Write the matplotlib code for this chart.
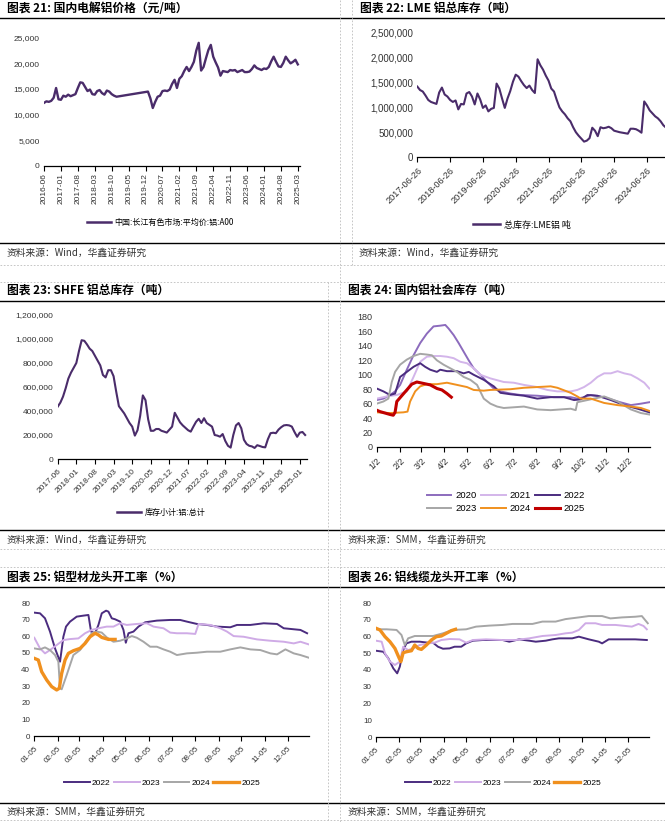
import numpy as np
import matplotlib
matplotlib.use('Agg')
import matplotlib.pyplot as plt
from matplotlib.ticker import FuncFormatter
from matplotlib.lines import Line2D
import pandas as pd

plt.rcParams['font.family'] = ['Liberation Sans', 'Noto Sans CJK SC', 'DejaVu Sans']
plt.rcParams['axes.unicode_minus'] = False

# ---------------- data ----------------
# Panel 21: domestic aluminium price (monthly, from 2016-06), None = no data
p21_start = '2016-06'
p21_price = [12300, 12600, 12500, 12700, 13300, 15200, 13000,
             12900, 13700, 13500, 13900, 13600, 13800, 14000, 15200, 16300, 16200, 15400, 14600,
             14900, 14000, 13900, 14600, 14800, 14200, 13900, 14700, 14500, 14000, 13700, 13500,
             None, None, None, None, None, None, None, None, None, None, None, None,
             14500, 13200, 11300, 12500, 13500, 13700, 14600, 14700, 14600, 14900, 16000, 16800,
             15200, 17000, 17500, 18500, 19300, 18500, 19300, 20300, 22500, 24000, 18600, 19300,
             21000, 22600, 23600, 21300, 20200, 19200, 17600, 18500, 18400, 18300, 18700, 18600,
             18700, 18300, 18500, 18700, 18300, 18300, 18400, 18900, 19600, 19100, 18900, 18700,
             19000, 18900, 19300, 20400, 21300, 20300, 19400, 19300, 20100, 21300, 20600, 20000,
             20300, 20700, 19800]
p21_ticks = ['2016-06', '2017-01', '2017-08', '2018-03', '2018-10', '2019-05', '2019-12',
             '2020-07', '2021-02', '2021-09', '2022-04', '2022-11', '2023-06', '2024-01',
             '2024-08', '2025-03']

# Panel 22: LME total aluminium stocks (monthly from 2017-06-26, thousand t)
p22_start = '2017-06-26'
p22_stock = [1420, 1350, 1320, 1240, 1150, 1110, 1090, 1070, 1300, 1400,
             1260, 1220, 1150, 1110, 1140, 960, 1070, 1060, 1280, 1310,
             1220, 1060, 1280, 1160, 990, 1040, 920, 970, 990, 1480,
             1380, 1180, 990, 1180, 1330, 1520, 1660, 1620, 1530, 1450,
             1390, 1440, 1350, 1290, 1970, 1850, 1760, 1640, 1540, 1380,
             1320, 1150, 1000, 920, 860, 780, 720, 600, 500, 430,
             370, 310, 330, 380, 590, 530, 420, 600, 580, 590,
             610, 580, 530, 515, 500, 490, 480, 470, 570, 570,
             560, 530, 490, 1120, 1040, 940, 880, 820, 780, 720,
             640, 590]
p22_ticks = ['2017-06-26', '2018-06-26', '2019-06-26', '2020-06-26', '2021-06-26',
             '2022-06-26', '2023-06-26', '2024-06-26']

# Panel 23: SHFE aluminium stocks (monthly from 2017-06, thousand t)
p23_start = '2017-06'
p23_stock = [436, 470, 520, 590, 670, 720, 760, 800, 900, 990,
             985, 955, 920, 900, 860, 820, 780, 700, 680, 740,
             740, 690, 560, 440, 410, 380, 340, 300, 270, 195,
             240, 360, 530, 490, 330, 235, 235, 250, 250, 235,
             228, 220, 245, 270, 385, 345, 305, 280, 260, 240,
             228, 270, 310, 335, 300, 340, 300, 285, 270, 200,
             195, 186, 208, 150, 110, 95, 200, 280, 300, 256,
             160, 125, 110, 105, 92, 115, 108, 100, 97, 165,
             215, 219, 215, 245, 265, 280, 283, 280, 270, 225,
             185, 220, 225, 200]
p23_ticks = ['2017-06', '2018-01', '2018-08', '2019-03', '2019-10', '2020-05', '2020-12',
             '2021-07', '2022-02', '2022-09', '2023-04', '2023-11', '2024-06', '2025-01']

# Panel 24: domestic aluminium social inventory (days since 1/2)
p24_years = ['2020', '2021', '2022', '2023', '2024', '2025']
p24_d2020 = [0, 8.9, 17.8, 24.4, 31.1, 40, 48.9, 57.8, 66.6, 75.5, 84.4, 91.1, 95.5, 102.2, 108.8,
             115.5, 122.2, 128.8, 137.7, 146.6, 155.5, 164.4, 177.7, 191, 213.2, 235.5, 257.7,
             266.5, 275.4, 284.3, 302.1, 319.9, 337.6, 351, 362.1]
p24_v2020 = [65, 67, 72, 77, 86, 107, 127, 144, 157, 167, 168, 169, 164, 155, 144,
             132, 120, 109, 100, 90, 81, 77, 74, 72, 71, 69, 69,
             67, 69, 72, 69, 63, 58, 60, 62]
p24_d2021 = [0, 13.3, 26.7, 40, 48.9, 57.8, 66.6, 75.5, 84.4, 93.3, 102.2, 111.1, 119.9, 128.8,
             137.7, 151, 168.8, 182.1, 195.5, 213.2, 226.6, 239.9, 257.7, 266.5, 275.4, 284.3,
             293.2, 302.1, 311, 319.9, 328.7, 337.6, 346.5, 355.4, 362.1]
p24_v2021 = [67, 70, 72, 77, 97, 118, 125, 126, 126, 125, 123, 118, 116, 109,
             100, 95, 90, 89, 86, 83, 79, 77, 77, 79, 83, 89,
             97, 102, 102, 105, 102, 100, 95, 89, 81]
p24_d2022 = [0, 8.9, 17.8, 24.4, 31.1, 40, 48.9, 57.8, 64.4, 71.1, 80, 84.4, 93.3, 106.6, 115.5,
             122.2, 128.8, 142.2, 155.5, 164.4, 177.7, 195.5, 213.2, 231, 248.8, 262.1, 271,
             279.9, 293.2, 311, 328.7, 346.5, 362.1]
p24_v2022 = [81, 77, 72, 74, 97, 104, 111, 116, 111, 107, 104, 107, 105, 105, 102,
             104, 100, 93, 84, 75, 73, 71, 67, 69, 69, 65, 66,
             72, 71, 65, 58, 53, 48]
p24_d2023 = [0, 8.9, 15.5, 20, 24.4, 31.1, 40, 48.9, 57.8, 66.6, 73.3, 80, 88.8, 97.7, 106.6,
             115.5, 124.4, 133.3, 142.2, 151, 159.9, 168.8, 182.1, 195.5, 213.2, 231, 244.3,
             257.7, 264.3, 266.5, 284.3, 302.1, 319.9, 337.6, 351, 362.1]
p24_v2023 = [60, 63, 67, 90, 104, 114, 121, 126, 129, 128, 127, 120, 114, 109, 104,
             97, 93, 86, 67, 60, 56, 54, 55, 56, 52, 51, 52,
             53, 51, 62, 66, 70, 63, 52, 47, 45]
p24_d2024 = [0, 17.8, 35.5, 40.9, 44.4, 51.1, 57.8, 66.6, 80, 93.3, 106.6, 119.9, 128.8, 142.2,
             151, 177.7, 195.5, 213.2, 231, 240, 257.7, 266.5, 271, 284.3, 302.1, 319.9, 337.6,
             351, 362.1]
p24_v2024 = [48, 47, 48, 49, 63, 77, 84, 87, 87, 89, 86, 83, 79, 78,
             79, 80, 82, 83, 84, 82, 75, 70, 67, 67, 61, 58, 56,
             54, 50]
p24_d2025 = [0, 4.4, 11.1, 17.8, 22, 24.4, 26.7, 33.3, 40, 46.6, 53.3, 62.2, 71.1, 80, 86.6,
             93.3, 99.1]
p24_v2025 = [51, 49, 47, 45, 44, 48, 63, 71, 79, 87, 90, 88, 86, 81, 79,
             74, 69]
p24_ticks = ['1/2', '2/2', '3/2', '4/2', '5/2', '6/2', '7/2', '8/2', '9/2', '10/2', '11/2', '12/2']

# Panel 25: aluminium profile leading firms operating rate (days since 01-05)
p25_years = ['2022', '2023', '2024', '2025']
p25_d2022 = [0, 7.5, 14.1, 20.7, 27.3, 33.9, 38.3, 41.8, 47.1, 55.9, 64.7, 71.3, 74.8, 80.1,
             84.5, 88.9, 94.6, 97.7, 102.1, 106.5, 113.1, 117.5, 120.6, 124.1, 130.7, 137.3,
             146.1, 161.5, 179.1, 192.3, 201.1, 214.3, 227.5, 240.7, 258.3, 267.1, 284.7,
             302.3, 319.9, 328.7, 341.9, 350.7, 359.5]
p25_v2022 = [74.2, 73.8, 70.8, 62.8, 52.7, 44.7, 59.7, 65.8, 68.8, 71.8, 72.4, 72.8, 62.8, 61.8,
             66.8, 73.8, 75.4, 74.8, 70.8, 70.2, 68.8, 63.8, 56.1, 61.8, 62.8, 65.8,
             68.4, 69.4, 69.8, 69.8, 68.8, 67.4, 66.8, 65.8, 65.4, 66.8, 66.8,
             67.8, 67.4, 64.8, 64.2, 63.8, 61.8]
p25_d2023 = [0, 7.5, 14.1, 20.7, 29.5, 38.3, 47.1, 58.1, 66.9, 75.7, 84.5, 95.5, 104.3, 113.1,
             121.9, 135.1, 148.3, 157.1, 170.3, 179.1, 187.9, 201.1, 212.1, 216.5, 231.9, 245.1,
             253.9, 262.7, 275.9, 293.5, 311.1, 328.7, 341.9, 350.7, 361.7]
p25_v2023 = [59.1, 52.7, 49.7, 51.7, 54.7, 57.7, 58.3, 58.7, 61.8, 63.8, 64.8, 65.8, 65.8, 67.8,
             66.8, 67.4, 67.8, 65.8, 64.8, 62.2, 61.8, 61.8, 61.4, 67.4, 66.8, 64.8,
             62.8, 60.1, 59.7, 58.1, 57.3, 56.7, 55.7, 56.7, 55.1]
p25_d2024 = [0, 7.5, 14.1, 20.7, 27.3, 31.7, 33.9, 36.1, 42.7, 51.5, 60.3, 69.1, 75.7, 82.3,
             88.9, 95.5, 104.3, 113.1, 121.9, 128.5, 135.1, 143.9, 152.7, 161.5, 170.3, 179.1,
             187.9, 201.1, 214.3, 227.5, 245.1, 258.3, 271.5, 284.7, 297.9, 311.1, 319.9,
             330.9, 341.9, 350.7, 361.7]
p25_v2024 = [52.7, 52.1, 53.3, 51.7, 48.7, 44.7, 28.7, 28.1, 36.7, 48.7, 51.7, 57.7, 61.8, 62.8,
             62.2, 59.3, 56.7, 57.3, 58.7, 60.1, 59.1, 56.7, 53.7, 53.7, 52.1, 50.7,
             48.7, 49.7, 50.1, 50.7, 50.7, 52.1, 53.3, 52.1, 51.7, 49.7, 49.1,
             52.1, 49.7, 48.7, 47.1]
p25_d2025 = [0, 5.3, 9.7, 16.3, 22.9, 29.5, 33, 36.1, 40.5, 44.9, 51.5, 60.3, 66.9, 73.5, 80.1,
             84.5, 88.9, 97.7, 106.5]
p25_v2025 = [46.7, 45.7, 38.7, 33.7, 29.7, 27.7, 28.7, 37.7, 45.7, 49.7, 51.3, 52.7, 55.7, 59.7,
             61.8, 60.8, 59.3, 58.1, 58.1]
p25_ticks = ['01-05', '02-05', '03-05', '04-05', '05-05', '06-05', '07-05', '08-05', '09-05',
             '10-05', '11-05', '12-05']

# Panel 26: aluminium cable leading firms operating rate (days since 01-05)
p26_d2022 = [0, 9.7, 16.3, 22.9, 28.1, 31.6, 36, 40.4, 47, 58, 69, 75.6, 82.2, 88.8, 97.6,
             104.2, 113, 119.6, 128.4, 141.5, 154.7, 167.9, 176.7, 189.9, 203.1, 211.9, 225.1,
             233.8, 242.6, 260.2, 269, 282.2, 295.4, 299.8, 308.6, 326.2, 343.7, 359.1]
p26_v2022 = [51.5, 50.9, 47, 41, 38, 42, 51.9, 55.9, 56.9, 56.9, 56.3, 56.3, 53.9, 52.7, 52.9,
             53.9, 53.9, 55.9, 57.5, 57.9, 57.9, 57.9, 56.9, 58.3, 57.5, 56.9, 57.5,
             58.3, 58.9, 58.9, 59.9, 58.3, 56.9, 55.9, 58.3, 58.3, 58.3, 57.9]
p26_d2023 = [0, 7.5, 11.9, 18.5, 25.1, 31.6, 36, 42.6, 49.2, 58, 69, 77.8, 86.6, 97.6, 110.8,
             119.6, 128.4, 145.9, 167.9, 185.5, 203.1, 220.7, 238.2, 251.4, 260.2, 269, 277.8,
             291, 299.8, 317.4, 330.5, 339.3, 348.1, 354.7, 359.1]
p26_v2023 = [57.5, 56.9, 50, 45, 43, 45, 53.9, 51.9, 52.9, 54.9, 55.9, 56.3, 57.9, 58.5, 58.3,
             56.3, 57.9, 58.3, 57.9, 57.9, 58.9, 60.3, 60.9, 61.9, 62.3, 63.9, 67.9,
             67.9, 66.9, 66.9, 66.3, 65.9, 67.5, 66.3, 64.3]
p26_d2024 = [0, 14.1, 27.3, 33.8, 38.2, 42.6, 51.4, 62.4, 75.6, 88.8, 102, 119.6, 132.7, 150.3,
             167.9, 181.1, 207.5, 220.7, 238.2, 251.4, 269, 282.2, 299.8, 310.8, 326.2, 343.7,
             352.5, 360.4]
p26_v2024 = [64.3, 64.3, 63.9, 60.9, 54.9, 58.9, 60.3, 60.3, 60.3, 61.9, 63.9, 64.3, 65.9, 66.5,
             66.9, 67.5, 67.5, 68.9, 68.9, 70.4, 71.4, 72.2, 72.2, 70.8, 71.4, 71.8,
             72.2, 67.9]
p26_d2025 = [0, 5.3, 11.9, 18.5, 25.1, 30.8, 33, 36, 40.4, 47, 51.4, 55.8, 60.2, 66.8, 73.4, 80,
             86.6, 93.2, 99.8, 105.5]
p26_v2025 = [64.9, 63.9, 59.9, 56.9, 52.9, 47, 45, 50.3, 50.9, 51.5, 54.9, 52.9, 52.3, 54.9,
             57.9, 59.9, 60.3, 61.9, 63.5, 64.3]

# ---------------- styling ----------------
PURPLE_D = '#4a2c6a'
C24 = {'2020': '#8c6bbd', '2021': '#d3b5ea', '2022': '#4b2c7f',
       '2023': '#a6a6a6', '2024': '#f0901e', '2025': '#c00000'}
C25 = {'2022': '#4b2c7f', '2023': '#cfabe6', '2024': '#a6a6a6', '2025': '#f0901e'}
TXT = '#333333'
CJK = ['Noto Sans CJK SC', 'DejaVu Sans']

W, H = 665, 822
fig = plt.figure(figsize=(W / 100, H / 100), dpi=100)


def fx(x):
    return x / W


def fy(y):
    return 1 - y / H


def px_axes(l, t, r, b):
    return fig.add_axes([l / W, 1 - b / H, (r - l) / W, (b - t) / H])


def month_index(s, start):
    y, m = map(int, s.split('-')[:2])
    y0, m0 = map(int, start.split('-')[:2])
    return (y - y0) * 12 + (m - m0)


def day_index(s, base, sep):
    m, d = map(int, s.split(sep))
    if sep == '/':
        m, d = m, d
    return (pd.Timestamp(2023, m, d) - base).days


def style(ax, ysize, xsize):
    for s in ['top', 'right', 'left']:
        ax.spines[s].set_visible(False)
    ax.spines['bottom'].set_color('black')
    ax.spines['bottom'].set_linewidth(0.9)
    ax.tick_params(axis='x', direction='out', length=3.5, width=0.8, colors='black',
                   labelsize=xsize, labelcolor=TXT, pad=1.5)
    ax.tick_params(axis='y', length=0, labelsize=ysize, labelcolor=TXT, pad=3)
    ax.patch.set_alpha(0)


comma = FuncFormatter(lambda v, p: f'{v:,.0f}')

# ---------- frame: titles, rules, sources ----------
for y in [18.3, 243.3, 301, 530, 587, 803]:
    fig.add_artist(Line2D([0, 1], [fy(y), fy(y)], color='black', lw=1.0))
dash = dict(color='#bdbdbd', lw=0.6, ls=(0, (2, 2)))
for y in [265, 282, 549, 567, 820]:
    fig.add_artist(Line2D([0, 1], [fy(y), fy(y)], **dash))
fig.add_artist(Line2D([fx(340), fx(340)], [fy(0), fy(822)], **dash))
fig.add_artist(Line2D([fx(352), fx(352)], [fy(0), fy(265)], **dash))
fig.add_artist(Line2D([fx(328), fx(328)], [fy(282), fy(822)], **dash))

titles = [(7, 8.5, '图表 21: 国内电解铝价格（元/吨）'),
          (360, 8.5, '图表 22: LME 铝总库存（吨）'),
          (7, 290, '图表 23: SHFE 铝总库存（吨）'),
          (348, 290, '图表 24: 国内铝社会库存（吨）'),
          (7, 577, '图表 25: 铝型材龙头开工率（%）'),
          (348, 577, '图表 26: 铝线缆龙头开工率（%）')]
for x, y, t in titles:
    fig.text(fx(x), fy(y), t, fontsize=8.5, fontweight='bold', family=CJK,
             ha='left', va='center', color='black')

sources = [(7, 253, '资料来源：Wind，华鑫证券研究'),
           (359, 253, '资料来源：Wind，华鑫证券研究'),
           (7, 540, '资料来源：Wind，华鑫证券研究'),
           (348, 540, '资料来源：SMM，华鑫证券研究'),
           (7, 812, '资料来源：SMM，华鑫证券研究'),
           (348, 812, '资料来源：SMM，华鑫证券研究')]
for x, y, t in sources:
    fig.text(fx(x), fy(y), t, fontsize=7, family=CJK, ha='left', va='center', color=TXT)

# ---------- Panel 21 ----------
ax = px_axes(44, 37.7, 300, 166)
v = np.array([np.nan if a is None else a for a in p21_price], dtype=float)
x = np.arange(len(v))
ok = ~np.isnan(v)
ax.plot(x[ok], v[ok], color=PURPLE_D, lw=1.7, solid_joinstyle='round')
ax.set_xlim(0, 105.9)
ax.set_ylim(0, 25000)
ax.set_yticks(np.arange(0, 25001, 5000))
ax.yaxis.set_major_formatter(comma)
ax.set_xticks([month_index(t, p21_start) for t in p21_ticks])
ax.set_xticklabels(p21_ticks, rotation=90, ha='center', va='top')
style(ax, 6.0, 6.0)
fig.legend([Line2D([], [], color=PURPLE_D, lw=1.8)], ['中国:长江有色市场:平均价:铝:A00'],
           loc='center', bbox_to_anchor=(fx(160), fy(222)), frameon=False,
           prop={'family': CJK, 'size': 5.8}, handlelength=3.0, handletextpad=0.4)

# ---------- Panel 22 ----------
ax = px_axes(417.3, 33, 665, 157)
v = np.array(p22_stock, dtype=float) * 1000
ax.plot(np.arange(len(v)), v, color=PURPLE_D, lw=1.5, solid_joinstyle='round')
ax.set_xlim(0, 90.6)
ax.set_ylim(0, 2500000)
ax.set_yticks(np.arange(0, 2500001, 500000))
ax.yaxis.set_major_formatter(comma)
ax.set_xticks([month_index(t, p22_start) for t in p22_ticks])
ax.set_xticklabels(p22_ticks, rotation=45, ha='right', rotation_mode='anchor')
style(ax, 7.0, 6.6)
ax.tick_params(axis='x', pad=3)
fig.legend([Line2D([], [], color=PURPLE_D, lw=1.8)], ['总库存:LME铝 吨'],
           loc='center', bbox_to_anchor=(fx(522), fy(225)), frameon=False,
           prop={'family': CJK, 'size': 6.5}, handlelength=3.0, handletextpad=0.4)

# ---------- Panel 23 ----------
ax = px_axes(57.7, 315, 307, 459)
v = np.array(p23_stock, dtype=float) * 1000
ax.plot(np.arange(len(v)), v, color=PURPLE_D, lw=1.5, solid_joinstyle='round')
ax.set_xlim(0, 93.7)
ax.set_ylim(0, 1200000)
ax.set_yticks(np.arange(0, 1200001, 200000))
ax.yaxis.set_major_formatter(comma)
ax.set_xticks([month_index(t, p23_start) for t in p23_ticks])
ax.set_xticklabels(p23_ticks, rotation=45, ha='right', rotation_mode='anchor')
style(ax, 6.0, 6.0)
ax.tick_params(axis='x', pad=3)
fig.legend([Line2D([], [], color=PURPLE_D, lw=1.8)], ['库存小计:铝:总计'],
           loc='center', bbox_to_anchor=(fx(161), fy(512)), frameon=False,
           prop={'family': CJK, 'size': 5.8}, handlelength=3.0, handletextpad=0.4)

# ---------- Panel 24 ----------
ax = px_axes(376.7, 317, 650, 447)
p24_series = {'2020': (p24_d2020, p24_v2020), '2021': (p24_d2021, p24_v2021),
              '2022': (p24_d2022, p24_v2022), '2023': (p24_d2023, p24_v2023),
              '2024': (p24_d2024, p24_v2024), '2025': (p24_d2025, p24_v2025)}
h24 = {}
for yr in p24_years:
    d, vv = p24_series[yr]
    lw = 2.2 if yr == '2025' else 1.4
    h24[yr], = ax.plot(d, vv, color=C24[yr], lw=lw, label=yr, solid_joinstyle='round')
ax.set_xlim(0, 363)
ax.set_ylim(0, 180)
ax.set_yticks(np.arange(0, 181, 20))
base24 = pd.Timestamp(2023, 1, 2)
ax.set_xticks([(pd.Timestamp(2023, int(t.split('/')[0]), int(t.split('/')[1])) - base24).days
               for t in p24_ticks])
ax.set_xticklabels(p24_ticks, rotation=45, ha='right', rotation_mode='anchor')
style(ax, 6.5, 6.5)
ax.tick_params(axis='x', pad=3)
order = ['2020', '2023', '2021', '2024', '2022', '2025']
fig.legend([h24[k] for k in order], order, ncol=3, loc='center',
           bbox_to_anchor=(fx(506), fy(502)), frameon=False, fontsize=6.8,
           handlelength=2.6, handletextpad=0.4, columnspacing=0.5, labelspacing=0.45)

# ---------- Panels 25 / 26 ----------
base25 = pd.Timestamp(2023, 1, 5)
tick25 = [(pd.Timestamp(2023, int(t.split('-')[0]), int(t.split('-')[1])) - base25).days
          for t in p25_ticks]


def rate_panel(box, series, legend_x):
    ax = px_axes(*box)
    hs = []
    for yr in p25_years:
        d, vv = series[yr]
        lw = 2.4 if yr == '2025' else 1.4
        h, = ax.plot(d, vv, color=C25[yr], lw=lw, label=yr, solid_joinstyle='round')
        hs.append(h)
    ax.set_xlim(0, 362)
    ax.set_ylim(0, 80)
    ax.set_yticks(np.arange(0, 81, 10))
    ax.set_xticks(tick25)
    ax.set_xticklabels(p25_ticks, rotation=45, ha='right', rotation_mode='anchor')
    style(ax, 5.8, 5.8)
    ax.tick_params(axis='x', pad=3)
    fig.legend(hs, p25_years, ncol=4, loc='center', bbox_to_anchor=(fx(legend_x), fy(783)),
               frameon=False, fontsize=6.0, handlelength=3.1, handletextpad=0.25,
               columnspacing=0.4)
    return ax


rate_panel((34.3, 603, 309, 736),
           {'2022': (p25_d2022, p25_v2022), '2023': (p25_d2023, p25_v2023),
            '2024': (p25_d2024, p25_v2024), '2025': (p25_d2025, p25_v2025)}, 162)
rate_panel((376, 603, 649, 737),
           {'2022': (p26_d2022, p26_v2022), '2023': (p26_d2023, p26_v2023),
            '2024': (p26_d2024, p26_v2024), '2025': (p26_d2025, p26_v2025)}, 503)

fig.savefig('out.png', dpi=100)
